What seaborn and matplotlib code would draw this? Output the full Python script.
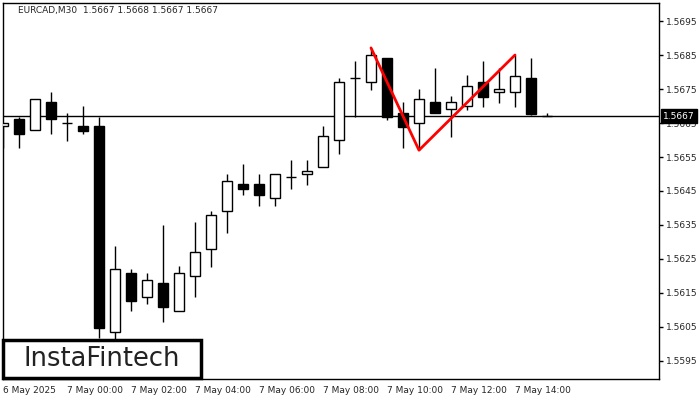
import matplotlib
matplotlib.use("Agg")
import matplotlib.pyplot as plt
import seaborn as sns
import numpy as np
from matplotlib.patches import Rectangle

sns.set_style("white")
plt.rcParams['font.family'] = ['DejaVu Sans']

opens  = [1.5664,1.56662,1.56629,1.56712,1.5665,1.56641,1.56641,1.56035,1.56209,1.56138,1.56179,1.56097,1.5620,1.56279,1.56391,1.56471,1.56471,1.56429,1.56491,1.5650,1.56521,1.5660,1.56782,1.56771,1.56841,1.56679,1.5665,1.56712,1.56691,1.5670,1.56771,1.56741,1.56741,1.56782,1.5667]
highs  = [1.5665,1.56668,1.56721,1.56741,1.56679,1.5670,1.56668,1.56288,1.56221,1.56209,1.5635,1.5623,1.56359,1.56391,1.5650,1.56529,1.5650,1.5650,1.56541,1.56541,1.56641,1.56782,1.56832,1.56871,1.56841,1.56712,1.5675,1.56812,1.56729,1.56791,1.56832,1.56812,1.5685,1.56841,1.5668]
lows   = [1.56577,1.56577,1.56629,1.56618,1.56597,1.56618,1.56018,1.56012,1.56097,1.56118,1.56065,1.56097,1.56138,1.56226,1.56326,1.56438,1.56406,1.56406,1.56456,1.56468,1.56521,1.56559,1.56668,1.56747,1.56659,1.56577,1.56571,1.56679,1.56609,1.56688,1.56697,1.56709,1.56697,1.56673,1.5667]
closes = [1.5665,1.56618,1.56721,1.56662,1.5665,1.56626,1.56047,1.56221,1.56126,1.56188,1.56109,1.56209,1.56271,1.56379,1.56479,1.56456,1.56438,1.565,1.56491,1.56509,1.56612,1.56771,1.56782,1.5685,1.56668,1.56638,1.56721,1.56679,1.56712,1.56759,1.56726,1.5675,1.56788,1.56676,1.5667]
pattern_x = [23, 26, 32]
pattern_y = [1.56871, 1.5657, 1.5685]
tick_idx = [0, 4, 8, 12, 16, 20, 24, 28, 32]
tick_labels = ["6 May 2025", "7 May 00:00", "7 May 02:00", "7 May 04:00", "7 May 06:00",
               "7 May 08:00", "7 May 10:00", "7 May 12:00", "7 May 14:00"]
y_ticks = [1.5595, 1.5605, 1.5615, 1.5625, 1.5635, 1.5645, 1.5655, 1.5665, 1.5675, 1.5685, 1.5695]
last_price = 1.5667

fig = plt.figure(figsize=(7, 4), dpi=100)
ax = fig.add_axes([3/700, 21/400, 656/700, 376/400])
ax.set_xlim(0, 41)
ax.set_ylim(1.55897, 1.57003)

x = np.arange(len(opens))
w = 0.62
ax.vlines(x, lows, highs, color="black", lw=1, zorder=2)
for xi, o, c in zip(x, opens, closes):
    lo, hi = min(o, c), max(o, c)
    h = max(hi - lo, 0.000001)
    fc = "white" if c > o else "black"
    if abs(c - o) < 0.00002:
        ax.hlines(o, xi - w/2, xi + w/2, color="black", lw=1, zorder=3)
    else:
        ax.add_patch(Rectangle((xi - w/2, lo), w, h, facecolor=fc, edgecolor="black", lw=1, zorder=3))

ax.axhline(last_price, color="black", lw=1, zorder=1)
sns.lineplot(x=pattern_x, y=pattern_y, ax=ax, color="red", lw=2, zorder=4)

ax.yaxis.tick_right()
ax.set_yticks(y_ticks)
ax.set_yticklabels([f"{v:.4f}" for v in y_ticks], fontsize=6.5)
ax.set_xticks(tick_idx)
ax.set_xticklabels(tick_labels, fontsize=6.5, ha="left")
ax.tick_params(axis="both", length=3, width=1, color="black", direction="out", pad=2)
for s in ax.spines.values():
    s.set_color("black"); s.set_linewidth(1)

ax.text(1.006, last_price, f"{last_price:.4f}", transform=ax.get_yaxis_transform(),
        fontsize=6.5, color="white", va="center", ha="left",
        bbox=dict(boxstyle="square,pad=0.25", fc="black", ec="black"), zorder=10, clip_on=False)

fig.text(18/700, 1 - 11/400, "EURCAD,M30  1.5667 1.5668 1.5667 1.5667", fontsize=6.5, va="center", ha="left")

fig.patches.append(Rectangle((3/700, 22/400), 198/700, 38/400, transform=fig.transFigure,
                             fc="white", ec="black", lw=2.5, zorder=20))
fig.text(102/700, 41/400, "InstaFintech", fontsize=18.5, ha="center", va="center", color="#222222", zorder=21)

fig.savefig("out.png", dpi=100)
